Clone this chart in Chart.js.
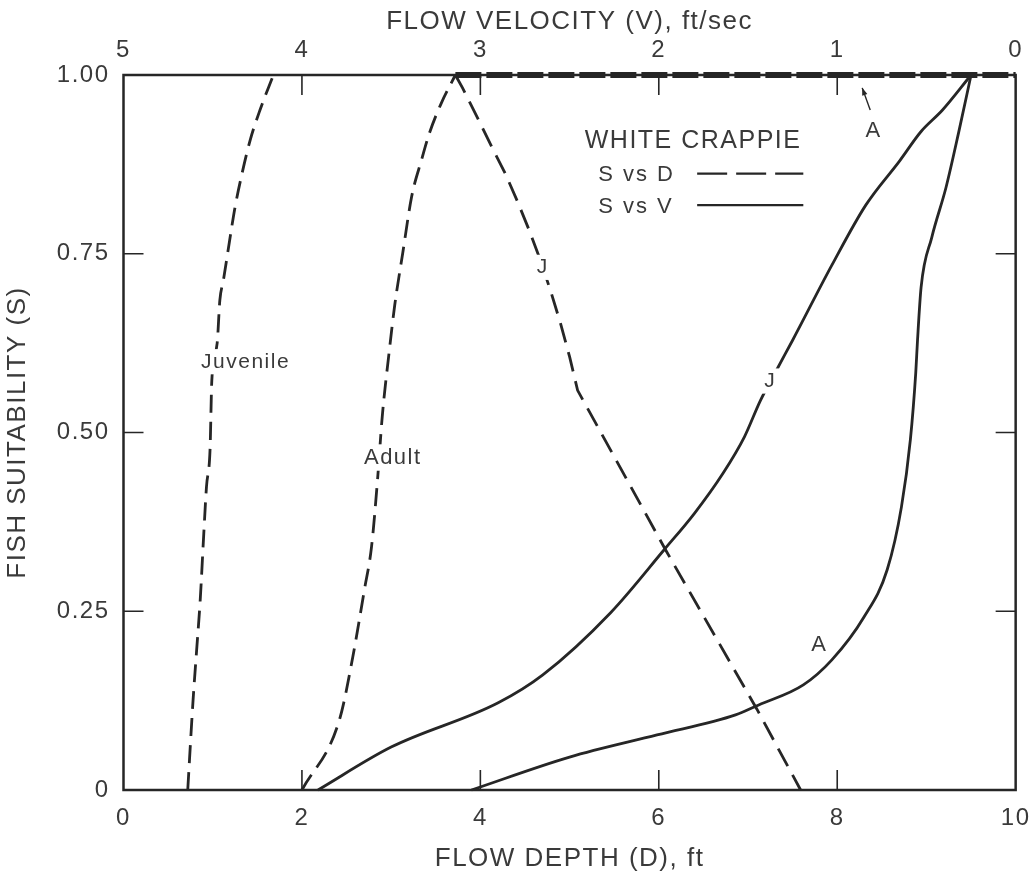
<!DOCTYPE html>
<html>
<head>
<meta charset="utf-8">
<script src="https://cdn.jsdelivr.net/npm/chart.js@4.4.1/dist/chart.umd.min.js"></script>
<style>
  html, body { margin: 0; padding: 0; background: #fff; }
  #wrap { width: 1035px; height: 878px; }
</style>
</head>
<body>
<div id="wrap"><canvas id="chart" width="1035" height="878"></canvas></div>
<script>
// --- S vs D curves (flow depth, ft) ---
const juvRiseDepth = [0.72, 0.78, 0.82, 0.86, 0.90, 0.93, 0.97, 0.99, 1.05, 1.08, 1.12, 1.19, 1.25, 1.33, 1.42, 1.53, 1.68];
const juvRiseSuit  = [0, 0.126, 0.196, 0.266, 0.359, 0.424, 0.476, 0.573, 0.625, 0.685, 0.713, 0.769, 0.815, 0.863, 0.909, 0.951, 1.0];

const juvFallDepth = [3.72, 3.80, 3.88, 4.00, 4.13, 4.28, 4.42, 4.55, 4.67, 4.79, 4.90, 5.00, 5.09, 6.08, 7.10, 7.59];
const juvFallSuit  = [1.0, 0.982, 0.962, 0.932, 0.899, 0.862, 0.822, 0.782, 0.742, 0.697, 0.652, 0.606, 0.559, 0.335, 0.113, 0];

const adultRiseDepth = [2.00, 2.42, 2.57, 2.70, 2.78, 2.85, 2.90, 2.98, 3.04, 3.13, 3.23, 3.34, 3.43, 3.56, 3.72];
const adultRiseSuit  = [0, 0.098, 0.186, 0.280, 0.340, 0.438, 0.522, 0.615, 0.678, 0.751, 0.830, 0.881, 0.919, 0.960, 1.0];

const adultTopDepth = [3.72, 10];
const adultTopSuit  = [1.0, 1.0];

// --- S vs V curves (flow velocity, ft/sec) ---
const juvVel     = [3.91, 3.50, 2.90, 2.65, 2.27, 1.97, 1.80, 1.64, 1.52, 1.43, 1.33, 1.25, 1.03, 0.84, 0.65, 0.53, 0.41, 0.25];
const juvVelSuit = [0, 0.060, 0.122, 0.161, 0.248, 0.336, 0.387, 0.443, 0.494, 0.545, 0.592, 0.629, 0.734, 0.818, 0.880, 0.921, 0.951, 1.0];

const adultVel     = [3.05, 2.50, 2.01, 1.57, 1.44, 1.19, 1.03, 0.85, 0.72, 0.64, 0.59, 0.56, 0.55, 0.53, 0.47, 0.39, 0.32, 0.25];
const adultVelSuit = [0, 0.046, 0.077, 0.105, 0.119, 0.147, 0.182, 0.242, 0.308, 0.396, 0.490, 0.583, 0.629, 0.703, 0.773, 0.843, 0.919, 1.0];

// --- axis ticks ---
const depthTicks = [0, 2, 4, 6, 8, 10];
const velTicks = [5, 4, 3, 2, 1, 0];
const suitTicks = [0, 0.25, 0.5, 0.75, 1];

const INK = '#262626';
const TEXT = '#3a3a3a';
const SANS = '"Liberation Sans", Arial, sans-serif';

const pts = (xs, ys) => xs.map((x, i) => ({ x: x, y: ys[i] }));

function curve(xs, ys, axis, dash, width, smooth) {
    return {
        data: pts(xs, ys), xAxisID: axis, yAxisID: 'y',
        showLine: true, borderColor: INK, borderWidth: width || 2.8,
        borderDash: dash || [], pointRadius: 0,
        cubicInterpolationMode: smooth === false ? 'default' : 'monotone',
        tension: 0, fill: false, clip: false
    };
}

// curve labels, placed in depth/suitability units
const notes = [
    { t: 'Juvenile', d: 1.36, s: 0.599, size: 21 },
    { t: 'Adult', d: 3.01, s: 0.465, size: 22 },
    { t: 'J', d: 4.69, s: 0.731, size: 21 },
    { t: 'J', d: 7.24, s: 0.572, size: 21 },
    { t: 'A', d: 7.79, s: 0.203, size: 22 },
    { t: 'A', d: 8.40, s: 0.922, size: 22, clear: false }
];

// spaced-out lettering like the typeset original
const spacing = {
    id: 'spacing',
    beforeDraw(chart) { chart.ctx.letterSpacing = '1.5px'; },
    afterDraw(chart) { chart.ctx.letterSpacing = '0px'; }
};

const frameAndNotes = {
    id: 'frameAndNotes',
    afterDatasetsDraw(chart) {
        const { ctx, chartArea: a, scales } = chart;
        const X = v => scales.x.getPixelForValue(v);
        const Y = v => scales.y.getPixelForValue(v);
        ctx.save();

        // frame with inward ticks
        ctx.strokeStyle = INK;
        ctx.lineWidth = 2.5;
        ctx.strokeRect(a.left, a.top, a.right - a.left, a.bottom - a.top);
        ctx.lineWidth = 1.6;
        ctx.beginPath();
        depthTicks.slice(1, -1).forEach(v => {
            ctx.moveTo(X(v), a.bottom); ctx.lineTo(X(v), a.bottom - 20);
            ctx.moveTo(X(v), a.top); ctx.lineTo(X(v), a.top + 20);
        });
        suitTicks.slice(1, -1).forEach(v => {
            ctx.moveTo(a.left, Y(v)); ctx.lineTo(a.left + 20, Y(v));
            ctx.moveTo(a.right, Y(v)); ctx.lineTo(a.right - 20, Y(v));
        });
        ctx.stroke();

        // labels sitting in gaps of the curves
        ctx.textAlign = 'center';
        ctx.textBaseline = 'middle';
        notes.forEach(n => {
            ctx.font = n.size + 'px ' + SANS;
            ctx.letterSpacing = '1.5px';
            const w = ctx.measureText(n.t).width;
            const px = X(n.d), py = Y(n.s);
            if (n.clear !== false) {
                ctx.fillStyle = '#fff';
                ctx.fillRect(px - w / 2 - 4, py - n.size * 0.6, w + 8, n.size * 1.2);
            }
            ctx.fillStyle = TEXT;
            ctx.fillText(n.t, px + 0.75, py);
        });

        // little arrow pointing at the adult plateau
        ctx.strokeStyle = INK;
        ctx.fillStyle = INK;
        ctx.lineWidth = 1.4;
        const ax0 = X(8.37), ay0 = Y(0.951), ax1 = X(8.28), ay1 = Y(0.982);
        ctx.beginPath(); ctx.moveTo(ax0, ay0); ctx.lineTo(ax1, ay1); ctx.stroke();
        const ang = Math.atan2(ay1 - ay0, ax1 - ax0);
        ctx.beginPath();
        ctx.moveTo(ax1, ay1);
        ctx.lineTo(ax1 - 8 * Math.cos(ang - 0.35), ay1 - 8 * Math.sin(ang - 0.35));
        ctx.lineTo(ax1 - 8 * Math.cos(ang + 0.35), ay1 - 8 * Math.sin(ang + 0.35));
        ctx.closePath(); ctx.fill();

        // key
        ctx.textAlign = 'left';
        ctx.fillStyle = TEXT;
        ctx.font = '25px ' + SANS;
        ctx.letterSpacing = '1.5px';
        ctx.fillText('WHITE CRAPPIE', X(5.17), Y(0.908));
        ctx.font = '22px ' + SANS;
        ctx.letterSpacing = '2px';
        ctx.fillText('S vs D', X(5.32), Y(0.860));
        ctx.fillText('S vs V', X(5.32), Y(0.816));
        ctx.letterSpacing = '0px';
        ctx.lineWidth = 2.4;
        ctx.beginPath();
        ctx.setLineDash([30, 9]);
        ctx.moveTo(X(6.43), Y(0.862)); ctx.lineTo(X(7.62), Y(0.862));
        ctx.stroke();
        ctx.setLineDash([]);
        ctx.beginPath();
        ctx.moveTo(X(6.43), Y(0.818)); ctx.lineTo(X(7.62), Y(0.818));
        ctx.stroke();
        ctx.restore();
    }
};

const tickFont = { family: SANS, size: 24 };
const titleFont = { family: SANS, size: 26 };

new Chart(document.getElementById('chart'), {
    type: 'scatter',
    data: {
        datasets: [
            curve(juvRiseDepth, juvRiseSuit, 'x', [18, 9]),
            curve(juvFallDepth, juvFallSuit, 'x', [20, 10], 2.8, false),
            curve(adultRiseDepth, adultRiseSuit, 'x', [18, 9]),
            curve(adultTopDepth, adultTopSuit, 'x', [26, 5], 6),
            curve(juvVel, juvVelSuit, 'xTop'),
            curve(adultVel, adultVelSuit, 'xTop')
        ]
    },
    options: {
        responsive: false,
        devicePixelRatio: 1,
        animation: false,
        layout: { padding: { right: 18 } },
        plugins: { legend: { display: false }, tooltip: { enabled: false } },
        scales: {
            x: {
                type: 'linear', position: 'bottom', min: 0, max: 10,
                afterBuildTicks: s => { s.ticks = depthTicks.map(v => ({ value: v })); },
                ticks: { font: tickFont, color: TEXT, padding: 6 },
                grid: { display: false }, border: { display: false },
                title: { display: true, text: 'FLOW DEPTH (D), ft', font: titleFont, color: TEXT, padding: { top: 0, bottom: 4 } },
                afterFit: s => { s.height = 88; }
            },
            xTop: {
                type: 'linear', position: 'top', min: 0, max: 5, reverse: true,
                afterBuildTicks: s => { s.ticks = velTicks.map(v => ({ value: v })); },
                ticks: { font: tickFont, color: TEXT, padding: 2 },
                grid: { display: false }, border: { display: false },
                title: { display: true, text: 'FLOW VELOCITY (V), ft/sec', font: titleFont, color: TEXT, padding: { top: 6, bottom: 0 } },
                afterFit: s => { s.height = 75; }
            },
            y: {
                type: 'linear', position: 'left', min: 0, max: 1,
                afterBuildTicks: s => { s.ticks = suitTicks.map(v => ({ value: v })); },
                ticks: { font: tickFont, color: TEXT, padding: 6, callback: v => v === 0 ? '0' : v.toFixed(2) },
                grid: { display: false }, border: { display: false },
                title: { display: true, text: 'FISH SUITABILITY (S)', font: titleFont, color: TEXT, padding: { top: 2, bottom: 0 } },
                afterFit: s => { s.width = 123.5; }
            }
        }
    },
    plugins: [spacing, frameAndNotes]
});
</script>
</body>
</html>
